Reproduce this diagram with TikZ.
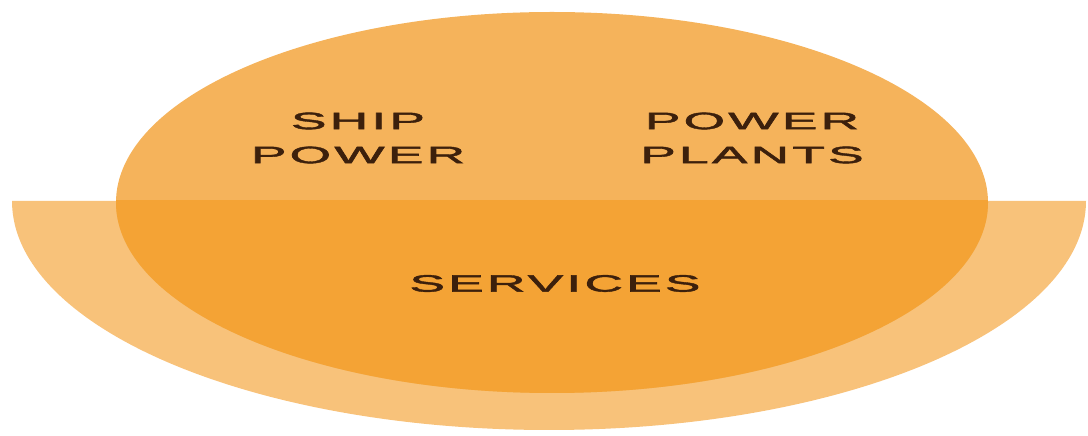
\documentclass[tikz,border=0pt]{standalone}
\usepackage{fontspec}
\setmainfont{Liberation Sans}
\usepackage{graphicx}
\usetikzlibrary{positioning}
\definecolor{ringlight}{HTML}{F8C27A}
\definecolor{ringmid}{HTML}{F5B35B}
\definecolor{ringdark}{HTML}{F4A335}
\definecolor{inkbrown}{HTML}{3C200C}
\newcommand{\wideword}[1]{\scalebox{2.25}[1]{\addfontfeature{LetterSpace=6,FakeBold=1.5}#1}}
\tikzset{sector/.style={align=center,text=inkbrown,inner sep=0pt,
  font=\fontsize{23.7}{34}\selectfont}}

\begin{document}
\begin{tikzpicture}[x=1pt,y=1pt]
\useasboundingbox (0,0) rectangle (1088,436);
\coordinate (C) at (552,233.5);
\coordinate (L) at (12,235);
% lower half ring
\fill[ringlight] (L) arc[start angle=180,end angle=360,x radius=537pt,y radius=229pt] -- cycle;
% upper disc
\fill[ringmid] (C) ellipse[x radius=436pt,y radius=190.5pt];
\begin{scope}
\clip (0,0) rectangle (1088,235);
\fill[ringdark] (C) ellipse[x radius=436pt,y radius=190.5pt];
\end{scope}
\node[sector] (ship) at (358,298) {\wideword{SHIP}\\\wideword{POWER}};
\node[sector] (plants) at (752,298) {\wideword{POWER}\\\wideword{PLANTS}};
\node[sector] (services) at (555,152.5) {\wideword{SERVICES}};
\end{tikzpicture}
\end{document}
